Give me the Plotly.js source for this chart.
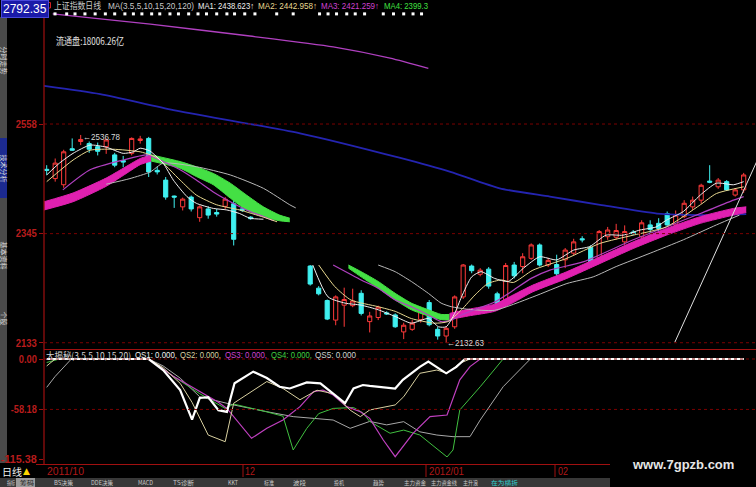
<!DOCTYPE html>
<html><head><meta charset="utf-8">
<script src="https://cdn.plot.ly/plotly-3.0.1.min.js"></script>
<style>html,body{margin:0;padding:0;background:#000;overflow:hidden}#chart{width:756px;height:487px}</style>
</head><body><div id="chart"></div>
<script>
// ---------- price candles (x = trading-day slot) ----------
const candleIdx = [0,1,2,3,4,5,6,7,8,9,10,11,12,13,14,15,16,17,18,19,20,21,22,23,24,
  31,32,33,34,35,36,37,38,39,40,41,42,43,44,45,46,47,48,49,50,51,52,53,54,55,56,57,58,59,60,
  61,62,63,64,65,66,67,68,69,70,71,72,73,74,75,76,77,78,79,80,81,82];
const openP = [2470,2452,2440,2510,2524,2520,2514,2514,2498,2487,2501,2526,2530,2468,2449,2418,2397,2416,2376,2393,2386,2398,2403,2393,2377,
  2282,2239,2215,2177,2206,2205,2229,2174,2182,2191,2187,2154,2159,2178,2211,2159,2146,2164,2222,2282,2266,2276,2228,2213,2284,2281,2297,2323,2284,2285,
  2294,2307,2335,2318,2294,2339,2338,2329,2348,2339,2362,2365,2384,2362,2378,2397,2410,2447,2436,2446,2420,2430];
const highP = [2478,2491,2508,2530,2536.78,2524,2522,2530,2502,2496,2532,2535,2533,2475,2455,2419,2415,2419,2400,2398,2393,2416,2414,2414,2379,
  2284,2243,2217,2225,2240,2238,2235,2193,2205,2194,2190,2172,2177,2200,2216,2164,2165,2225,2286,2285,2278,2280,2232,2288,2290,2307,2326,2326,2298,2304,
  2317,2335,2340,2322,2352,2358,2364,2361,2352,2371,2371,2375,2388,2390,2410,2417,2442,2478,2453,2449,2433,2463];
const lowP = [2459,2446,2434,2506,2517,2502,2497,2500,2474,2474,2497,2520,2455,2460,2411,2395,2390,2388,2368,2374,2378,2393,2322,2387,2372,
  2244,2225,2177,2167,2164,2202,2186,2153,2177,2187,2162,2140,2156,2172,2165,2139,2132.63,2160,2218,2268,2262,2238,2202,2209,2258,2268,2294,2281,2280,2262,
  2278,2303,2328,2287,2291,2333,2333,2323,2342,2336,2342,2346,2358,2358,2375,2391,2403,2443,2432,2428,2417,2424];
const closeP = [2468,2482,2504,2507,2528,2509,2505,2527,2478,2484,2530,2529,2465,2465,2416,2416,2412,2393,2397,2381,2383,2412,2334,2390,2374,
  2247,2228,2179,2222,2217,2214,2190,2185,2202,2189,2164,2167,2171,2195,2168,2146,2161,2222,2284,2273,2274,2243,2206,2283,2263,2300,2323,2284,2293,2267,
  2313,2329,2333,2290,2349,2352,2351,2349,2345,2366,2353,2355,2362,2381,2404,2410,2439,2445,2449,2430,2430,2459];

// ---------- moving averages (read points) ----------
const ma1S1X = [0,1.5,3.1,5.1,7.0,9.0,10.2,11.0,12.1,12.5,13.7,14.9,16.5,17.6,19.6,21.2,22.7,23.9,25.5];
const ma1S1Y = [2459,2482,2501,2517,2513,2501,2504,2511,2506,2501,2482,2449,2417,2404,2394,2391,2384,2375,2373];
const ma2S1X = [0,3.1,5.1,7.8,11.0,12.2,13.1,15.7,17.6,20.0,22.7,25.5,27.1];
const ma2S1Y = [2446,2488,2507,2509,2504,2498,2491,2449,2420,2401,2391,2377,2368];
const ma3S1X = [1.9,5.1,9.0,11.8,12.9,15.7,17.6,19.6,21.6,23.5,25.5,26.7];
const ma3S1Y = [2430,2469,2488,2498,2491,2469,2449,2426,2407,2391,2378,2370];
const maLS1X = [7.0,9.8,12.2,13.7,17.6,21.6,25.5,28.6,29.3];
const maLS1Y = [2441,2452,2465,2482,2475,2459,2433,2401,2395];

const ma1S2X = [31.3,33.1,35.1,37.0,39.0,41.0,42.9,44.9,46.1,47.0,48.0,48.8,50.0,51.1,52.7,54.3,56.1,58.0,60.0,62.0,63.9,65.8,67.8,69.8,71.7,72.9,74.9,76.9,78.8,80.8,82.0];
const ma1S2Y = [2284,2222,2210,2206,2197,2184,2171,2180,2164,2164,2190,2222,2261,2271,2258,2252,2278,2300,2294,2313,2320,2342,2342,2352,2358,2371,2388,2420,2443,2440,2446];
const ma2S2X = [32,33.9,35.8,39,41,42.9,45.6,47.2,48.8,50.4,51.9,53.5,54.9,57.2,61.2,65.1,69,72.9,76.9,78.8,82];
const ma2S2Y = [2284,2242,2216,2203,2194,2180,2171,2174,2197,2226,2248,2255,2250,2274,2297,2326,2342,2358,2401,2423,2436];
const ma3S2X = [33.7,37,39,41,42.9,44.9,46.4,47.6,48.8,50.8,52.7,54.9,57.0,59.2,63.1,69.0,72.9,76.9,80.8,82];
const ma3S2Y = [2284,2255,2239,2216,2203,2187,2174,2177,2187,2200,2212,2235,2258,2274,2290,2333,2358,2384,2410,2417];
const maLS2X = [39,41,42.9,44.9,46.4,47.6,49.6,52.7,57.2,61.2,64.3,67.0,71,74.9,78.8,81.5];
const maLS2Y = [2284,2271,2252,2229,2210,2203,2198,2196,2222,2248,2261,2281,2307,2333,2362,2381];

// thick trend bands (upper / lower edge)
const bandM1X = [-0.3,3.1,7.0,9.0,11.0,12.3];
const bandM1U = [2407,2424,2453,2472,2491,2498];
const bandM1L = [2391,2407,2437,2458,2479,2486];
const bandG1X = [12.3,15.7,17.6,19.6,21.6,23.5,25.5,27.4,28.6];
const bandG1U = [2498,2485,2475,2462,2443,2420,2397,2381,2375];
const bandG1L = [2486,2472,2456,2440,2414,2391,2378,2370,2368];
const bandG2X = [35.5,37.0,39.0,41.0,42.9,44.9,46.4,47.4];
const bandG2U = [2284,2271,2252,2229,2210,2197,2188,2188];
const bandG2L = [2278,2261,2239,2216,2197,2185,2178,2177];
const bandM2X = [47.4,49.6,52.7,54.9,57.2,61.2,65.1,69.0,72.9,76.9,80.8,82.3];
const bandM2U = [2190,2198,2208,2226,2245,2271,2300,2329,2355,2378,2394,2397];
const bandM2L = [2178,2185,2194,2211,2232,2258,2287,2316,2342,2365,2381,2386];

// long averages
const blueX = [-0.3,6.3,14.9,29.8,41.6,47.5,53.3,59.2,65.1,71.8,76.9,82.3];
const blueY = [2632,2616,2585,2540,2492,2465,2433,2417,2401,2384,2381,2383];
const purpleX = [0.7,12.2,23.9,33.7,40.4,44.9];
const purpleY = [2772,2752,2729,2708,2686,2666];

const trendX = [73.9,84];
const trendY = [2134,2502];

const topMarkIdx = [0,0.98,2.35,3.33,4.5,5.7,6.9,8.0,9.2,10.2,11.2,12.35,13.3,14.5,15.5,16.7,17.8,18.8,20.0,21.2,22.1,23.3,24.5,27.06,29.0,32.1,33.1,34.1,35.3,36.3,37.4,39.6,40.8,42.0,43.1,44.1];
const topMarkLevel = 2772;

const mainTickVals = [2133,2345,2558];
const mainTickText = ['2133','2345','2558'];
const subTickVals = [-115.38,-58.18,0];
const subTickText = ['-115.38','-58.18','0.00'];

// ---------- indicator 大揭秘 ----------
const qs1X = [0,12.0,13.7,15.7,17.1,18.0,19.0,20.2,21.2,22.1,24.3,25.9,27.4,28.6,30.6,32.2,33.7,35.1,36.1,37.2,38.0,39.2,41.0,41.9,43.9,44.9,45.9,47.0,48.2,49.2,82];
const qs1Y = [0,0,-12.7,-35.8,-70,-45,-44,-59,-61,-28,-14.6,-22,-32,-34,-27,-28,-40,-51,-34,-30,-31,-32,-34,-24,-9,-3,-9,-16.5,-9,0,0];
const qs2X = [0,1,12.0,13.7,15.7,17.1,19.0,21.0,22.0,24.3,25.9,27.8,29.8,31.8,33.7,35.7,36.9,38.0,41.0,42.0,43.9,45.9,47.1,48.6,49.8,82];
const qs2Y = [-8,0,0,-10,-28,-50,-87.7,-95.4,-51,-35.8,-26,-34,-47,-36,-40,-59,-66.5,-58.8,-53,-43.5,-16.5,-12.7,-16.5,-5,0,0];
const qs3X = [0,12.0,14.9,18.0,20.2,21.2,24.1,25.9,27.8,29.8,31.4,32.5,33.7,35.3,36.9,38.0,39.6,41.0,43.1,45.1,47.1,48.6,49.8,51.0,82];
const qs3Y = [0,0,-20,-38,-50,-57,-91.5,-80,-70.4,-55,-37.7,-35.8,-41.5,-55,-60.8,-68.5,-93.5,-112.7,-85.7,-66.5,-64.6,-24,-8.8,0,0];
const qs4X = [0,1.5,12.0,14.9,18.0,21.0,22.0,24.3,25.9,27.8,29.0,30.6,32.0,33.7,36.1,37.2,38.0,40.4,42.0,43.9,45.9,47.1,47.8,48.6,51.0,53.7,82];
const qs4Y = [-4,0,0,-20,-40,-57,-52,-57,-61,-66,-105,-80,-63,-57,-56,-62,-72,-85.7,-82,-87.7,-103,-113,-105,-58.8,-32,0,0];
const qs5X = [0,1.0,2.9,12.0,13.7,15.7,18.0,22.0,25.9,29.0,33.7,35.7,38.0,40.0,42.0,43.9,45.9,47.8,49.8,51.0,53.7,56.9,82];
const qs5Y = [-32.7,-20,0,0,-8,-22,-43.5,-53,-60.8,-66.5,-70.4,-80,-72,-76,-72.3,-84,-87.7,-89.6,-89.6,-70.4,-32,0,0];

// ---------- text ----------
const tabLabels = ['指标','筹码','BS决策','DDE决策','MACD','TS诊断','KKT','标准','波段','投机','趋势','主力资金','主力资金线','主升浪','在为横拆'];
const dateLabels = ['2011/10','12','2012/01','02'];

// ---------- styling helpers ----------
const W = 756, H = 487;
const PX = x => x / W, PY = y => 1 - y / H;
const CJK = 'Noto Sans CJK SC, sans-serif';
const NAR = 'Liberation Sans, Arial, sans-serif';

function line(x, y, color, width, xa, ya) {
  return {type:'scatter', mode:'lines', x:x, y:y, xaxis:xa||'x', yaxis:ya||'y',
    line:{color:color, width:width, shape:'spline', smoothing:0.6}, hoverinfo:'skip'};
}
function band(x, lo, up, color) {
  return [
    {type:'scatter', mode:'lines', x:x, y:lo, line:{color:color, width:1, shape:'spline', smoothing:0.6}, hoverinfo:'skip'},
    {type:'scatter', mode:'lines', x:x, y:up, line:{color:color, width:1, shape:'spline', smoothing:0.6}, fill:'tonexty', fillcolor:color, hoverinfo:'skip'}
  ];
}

const traces = [];
traces.push(line(blueX, blueY, '#2424b0', 1.8));
traces.push(line(purpleX, purpleY, '#b040c0', 1.3));
traces.push(...band(bandM1X, bandM1L, bandM1U, '#e020b0'));
traces.push(...band(bandG1X, bandG1L, bandG1U, '#44e044'));
traces.push(...band(bandG2X, bandG2L, bandG2U, '#44e044'));
traces.push(...band(bandM2X, bandM2L, bandM2U, '#e020b0'));
traces.push(line(maLS1X, maLS1Y, '#b8b8b8', 1));
traces.push(line(maLS2X, maLS2Y, '#b8b8b8', 1));
traces.push(line(ma3S1X, ma3S1Y, '#b040c0', 1.2));
traces.push(line(ma3S2X, ma3S2Y, '#b040c0', 1.2));
traces.push(line(ma2S1X, ma2S1Y, '#e8d890', 1));
traces.push(line(ma2S2X, ma2S2Y, '#e8d890', 1));
traces.push(line(ma1S1X, ma1S1Y, '#f0f0f0', 1));
traces.push(line(ma1S2X, ma1S2Y, '#f0f0f0', 1));
traces.push({type:'scatter', mode:'lines', x:trendX, y:trendY, line:{color:'#e0e0e0', width:1}, hoverinfo:'skip'});
traces.push({type:'scatter', mode:'markers', x:topMarkIdx, y:topMarkIdx.map(()=>topMarkLevel),
  marker:{symbol:'square', size:3, color:'#ffffff'}, hoverinfo:'skip'});
traces.push({type:'candlestick', x:candleIdx, open:openP, high:highP, low:lowP, close:closeP,
  increasing:{line:{color:'#ff3a3a', width:1}, fillcolor:'rgba(0,0,0,0)'},
  decreasing:{line:{color:'#3ff0f0', width:1}, fillcolor:'#3ff0f0'},
  whiskerwidth:0, hoverinfo:'skip'});

// indicator
traces.push(line(qs5X, qs5Y, '#a8a8a8', 1, 'x2', 'y2'));
traces.push(line(qs4X, qs4Y, '#40c040', 1, 'x2', 'y2'));
traces.push(line(qs3X, qs3Y, '#c040c0', 1.2, 'x2', 'y2'));
traces.push(line(qs2X, qs2Y, '#d8d0a0', 1, 'x2', 'y2'));
traces.push(line(qs1X, qs1Y, '#ffffff', 2.2, 'x2', 'y2'));
traces.slice(-5).forEach(t => { t.line.shape = 'linear'; });

// ---------- shapes ----------
const shapes = [];
const red = '#a01010';
mainTickVals.forEach(v => shapes.push({type:'line', xref:'paper', yref:'y', x0:PX(44), x1:1, y0:v, y1:v, line:{color:'#7a0000', width:1, dash:'dot'}}));
[0,-58.18].forEach(v => shapes.push({type:'line', xref:'paper', yref:'y2', x0:PX(44), x1:1, y0:v, y1:v, line:{color:'#7a0000', width:1, dash:'dot'}}));
shapes.push({type:'rect', xref:'paper', yref:'paper', x0:0, x1:PX(7), y0:PY(463), y1:PY(17), fillcolor:'#4a4a4a', line:{width:0}, layer:'below'});
shapes.push({type:'rect', xref:'paper', yref:'paper', x0:0, x1:PX(7), y0:PY(198), y1:PY(138), fillcolor:'#1c2a90', line:{width:0}, layer:'below'});
shapes.push({type:'line', xref:'paper', yref:'paper', x0:PX(44), x1:PX(44), y0:PY(465), y1:PY(0), line:{color:red, width:1.2}});
shapes.push({type:'line', xref:'paper', yref:'paper', x0:PX(44), x1:1, y0:PY(349.5), y1:PY(349.5), line:{color:red, width:1.2}});
shapes.push({type:'line', xref:'paper', yref:'paper', x0:PX(36), x1:PX(610), y0:PY(464.5), y1:PY(464.5), line:{color:red, width:1.2}});
[243,426,555].forEach(p => shapes.push({type:'line', xref:'paper', yref:'paper', x0:PX(p), x1:PX(p), y0:PY(477), y1:PY(465), line:{color:red, width:1}}));
shapes.push({type:'rect', xref:'paper', yref:'paper', x0:0, x1:PX(610), y0:PY(487), y1:PY(478), fillcolor:'#383838', line:{width:0}});
shapes.push({type:'rect', xref:'paper', yref:'paper', x0:PX(16), x1:PX(35), y0:PY(487), y1:PY(478), fillcolor:'#9a9a9a', line:{width:0}});
shapes.push({type:'rect', xref:'paper', yref:'paper', x0:PX(45.5), x1:PX(50.5), y0:PY(8), y1:PY(2.5), fillcolor:'rgba(0,0,0,0)', line:{color:'#d02020', width:1}});

// ---------- annotations ----------
const ann = [];
const fitW = {};
function txt(t, x, y, color, size, fam, w) {
  ann.push({text:t, xref:'paper', yref:'paper', x:PX(x), y:PY(y), xanchor:'left', yanchor:'middle',
    showarrow:false, borderpad:0, font:{color:color, size:size, family:fam||NAR}});
  if (w) fitW[ann.length - 1] = w;
}
ann.push({text:'2792.35', xref:'paper', yref:'paper', x:PX(1), y:PY(0.5), xanchor:'left', yanchor:'top', showarrow:false,
  bgcolor:'#1a1aa8', bordercolor:'#4848d8', borderwidth:1, borderpad:1, font:{color:'#ffffff', size:12, family:NAR}});
txt('上证指数日线', 53, 6, '#c8c8c8', 9, CJK, 47);
txt('MA(3.5,5,10,15,20,120)', 107, 6, '#c8c8c8', 9, NAR, 86);
txt('MA1: 2438.623↑', 197, 6, '#f0f0f0', 9, NAR, 56);
txt('MA2: 2442.958↑', 257, 6, '#e8d890', 9, NAR, 59);
txt('MA3: 2421.259↑', 320, 6, '#d040d0', 9, NAR, 58);
txt('MA4: 2399.3', 383, 6, '#40e040', 9, NAR, 44);
txt('流通盘:18006.26亿', 55, 40, '#e0e0e0', 10, CJK, 68);
ann.push({text:'←2536.78', xref:'x', yref:'y', x:4.1, y:2533, xanchor:'left', yanchor:'middle', showarrow:false, borderpad:0, font:{color:'#d8d8d8', size:9, family:NAR}});
fitW[ann.length - 1] = 37;
ann.push({text:'←2132.63', xref:'x', yref:'y', x:47.0, y:2133, xanchor:'left', yanchor:'middle', showarrow:false, borderpad:0, font:{color:'#d8d8d8', size:9, family:NAR}});
fitW[ann.length - 1] = 37;
txt('大揭秘(3.5,5,10,15,20)', 45, 355, '#d0d0d0', 9, 'Noto Sans CJK SC, Liberation Sans, sans-serif', 85);
txt('QS1: 0.000,', 134, 355, '#f0f0f0', 9, NAR, 42);
txt('QS2: 0.000,', 179, 355, '#d8d0a0', 9, NAR, 41);
txt('QS3: 0.000,', 224, 355, '#d040d0', 9, NAR, 42);
txt('QS4: 0.000,', 270, 355, '#40d040', 9, NAR, 41);
txt('QS5: 0.000', 314, 355, '#d0d0d0', 9, NAR, 41);
txt('日线', 1, 471, '#f0f0f0', 10, CJK, 20);
txt('▲', 22, 471, '#ffd700', 9, 'DejaVu Sans');
const datePos = [46, 244, 428, 557];
const dateW = [37, 10, 35, 10];
dateLabels.forEach((d, k) => txt(d, datePos[k], 471, '#b01818', 11, NAR, dateW[k]));
const tabPos = [6,19,53,90,137,172,227,263,292,333,372,403,430,462,490];
const tabW = [8,14,19,22,15,21,10,10,13,10,11,22,26,15,27];
tabLabels.forEach((t, k) => txt(t, tabPos[k], 482.5, k === 1 ? '#202020' : (k === tabLabels.length - 1 ? '#30d0d0' : '#c8c8c8'),
  6, 'Noto Sans CJK SC, Liberation Sans, sans-serif', tabW[k]));
ann.push({text:'www.7gpzb.com', xref:'paper', yref:'paper', x:PX(683), y:PY(464), xanchor:'center', yanchor:'middle', showarrow:false,
  font:{color:'#e6e6e6', size:13, family:'Liberation Sans, Arial, sans-serif', weight:'bold'}});
[['分时走势',60],['技术分析',168],['基本资料',255],['个股',318]].forEach(([t,y]) =>
  ann.push({text:t, xref:'paper', yref:'paper', x:PX(3.5), y:PY(y), xanchor:'center', yanchor:'middle', textangle:90, showarrow:false,
    font:{color:'#d8d8d8', size:7, family:CJK}}));

const tickW = {'2133':21, '2345':21, '2558':21, '0.00':18, '-58.18':26, '-115.38':36};
const axFont = {color:'#b81c1c', size:11, family:NAR, weight:'bold'};
const layout = {
  width:W, height:H, margin:{l:0, r:0, t:0, b:0}, paper_bgcolor:'#000', plot_bgcolor:'#000', showlegend:false,
  xaxis:{domain:[PX(44),1], range:[-0.318,83.45], showgrid:false, zeroline:false, showticklabels:false, showline:false, ticks:'',
    rangeslider:{visible:false}, anchor:'y', fixedrange:true},
  yaxis:{domain:[PY(349),1], range:[2120.8,2799], tickvals:mainTickVals, ticktext:mainTickText, ticks:'outside', ticklen:4,
    tickcolor:red, tickfont:axFont, showgrid:false, zeroline:false, showline:false, anchor:'x', fixedrange:true},
  xaxis2:{domain:[PX(44),1], range:[-0.318,83.45], showgrid:false, zeroline:false, showticklabels:false, showline:false, ticks:'',
    anchor:'y2', fixedrange:true},
  yaxis2:{domain:[PY(465),PY(350)], range:[-122.3,10.4], tickvals:subTickVals, ticktext:subTickText, ticks:'outside', ticklen:4,
    tickcolor:red, tickfont:axFont, showgrid:false, zeroline:false, showline:false, anchor:'x2', fixedrange:true},
  shapes:shapes, annotations:ann
};
Plotly.newPlot('chart', traces, layout, {displayModeBar:false, staticPlot:true}).then(gd => {
  Object.keys(fitW).forEach(i => {
    const el = gd.querySelector('.annotation[data-index="' + i + '"] text.annotation-text');
    if (!el) return;
    const bb = el.getBBox();
    el.setAttribute('text-anchor', 'start');
    el.setAttribute('x', bb.x);
    el.setAttribute('textLength', fitW[i]);
    el.setAttribute('lengthAdjust', 'spacingAndGlyphs');
  });
  gd.querySelectorAll('.ytick text, .y2tick text').forEach(el => {
    const key = el.textContent.replace(/\u2212/g, '-').trim();
    const w = tickW[key];
    if (w) { el.setAttribute('textLength', w); el.setAttribute('lengthAdjust', 'spacingAndGlyphs'); }
  });
});
</script></body></html>
